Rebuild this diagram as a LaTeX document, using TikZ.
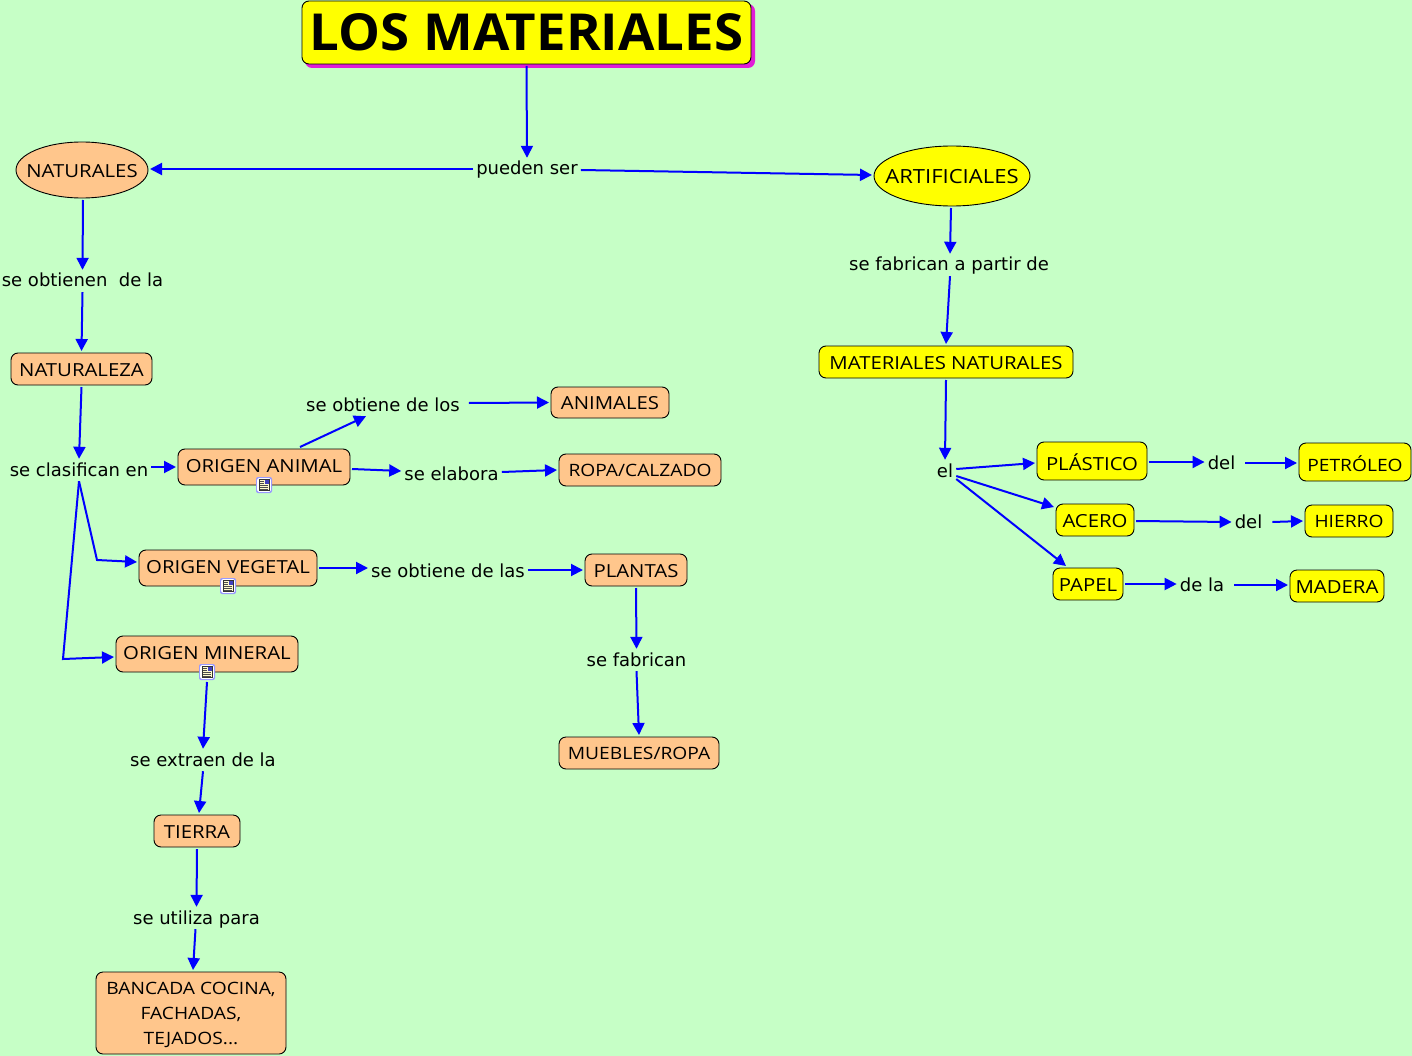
\documentclass[tikz,border=0pt]{standalone}
\usepackage{fontspec}
\setmainfont{DejaVu Sans}
\newfontfamily\conceptfont[FakeStretch=1.13]{Open Sans}
\newfontfamily\titlefont[FakeStretch=1.035]{Open Sans}
\usetikzlibrary{arrows.meta, shapes.geometric, positioning}
\definecolor{fondo}{RGB}{198,255,198}
\definecolor{melocoton}{RGB}{255,198,140}
\definecolor{amarillo}{RGB}{255,255,0}
\definecolor{sombra}{RGB}{225,30,215}
\tikzset{
  enlace/.style={draw=blue, line width=2pt, -{Triangle[length=12pt,width=12pt]}},
  palabra/.style={font=\fontsize{18}{22}\selectfont, inner xsep=3pt, inner ysep=2pt, text height=15pt, text depth=3pt},
  caja/.style={draw=black, line width=0.9pt, rounded corners=7pt, inner sep=0pt, outer sep=2pt, align=center, font=\conceptfont\fontsize{18}{25}\selectfont},
  capline/.style={text height=15pt, text depth=0pt},
  subir/.style={text height=11pt},
  estrecha/.style={font=\conceptfont\fontsize{17}{25}\selectfont},
  naranja/.style={caja, capline, fill=melocoton},
  naranjaalta/.style={caja, fill=melocoton},
  limon/.style={caja, capline, fill=amarillo},
  ovalo/.style={ellipse, draw=black, line width=0.9pt, inner xsep=-12pt, inner ysep=0pt, outer sep=2pt, capline, font=\conceptfont\fontsize{18}{22}\selectfont},
  notaicon/.pic={
    \fill [blue!40, rounded corners=2pt] (-8,-8) rectangle (8,8);
    \fill [white, rounded corners=1.5pt] (-6.8,-6.8) rectangle (6.8,6.8);
    \filldraw [fill=yellow!20, draw=black!80, line width=0.4pt] (-5,-5.5) rectangle (5,5.5);
    \fill [blue!50!gray] (0.5,-5) rectangle (4.5,-1);
    \foreach \ly in {-3.5,-1.5} {\draw [black!70, line width=0.5pt] (-4,\ly) -- (0,\ly);}
    \foreach \ly in {0.5,2.5,4} {\draw [black!70, line width=0.5pt] (-4,\ly) -- (4,\ly);}
  }
}
\begin{document}
\begin{tikzpicture}[x=1pt,y=-1pt]
\fill [fondo] (0,0) rectangle (1412,1056);
\useasboundingbox (0,0) rectangle (1412,1056);

% title
\fill [sombra, rounded corners=7pt] (305,4) rectangle (755,68);
\node [caja, capline, fill=amarillo, minimum width=449pt, minimum height=63pt, text height=37pt, font=\titlefont\bfseries\fontsize{51}{51}\selectfont] (titulo) at (526.5,32.5) {LOS MATERIALES};

% first level
\node [palabra] (pueden) at (527,169) {pueden ser};
\node [ovalo, fill=melocoton, minimum width=132pt, minimum height=56pt] (naturales) at (82,170) {NATURALES};
\node [ovalo, fill=amarillo, minimum width=156pt, minimum height=60pt, font=\conceptfont\fontsize{19.5}{22}\selectfont] (artificiales) at (952,176) {ARTIFICIALES};

% left side
\node [palabra] (obtienen) at (82.5,281) {se obtienen\ \ de la};
\node [naranja, minimum width=141pt, minimum height=32pt] (naturaleza) at (81.5,369) {NATURALEZA};
\node [palabra] (clasifican) at (79,470) {se clasifican en};
\node [naranja, subir, minimum width=172pt, minimum height=36pt] (origenanimal) at (264,467) {ORIGEN ANIMAL};
\node [palabra] (obtienelos) at (383,405) {se obtiene de los};
\node [naranja, minimum width=118pt, minimum height=31pt, text height=13pt] (animales) at (610,402.5) {ANIMALES};
\node [palabra] (elabora) at (451.5,474) {se elabora};
\node [naranja, estrecha, minimum width=162pt, minimum height=32pt, text height=13pt] (ropa) at (640,470) {ROPA/CALZADO};
\node [naranja, subir, minimum width=178pt, minimum height=36pt] (origenvegetal) at (228,568) {ORIGEN VEGETAL};
\node [palabra] (obtienelas) at (448,571) {se obtiene de las};
\node [naranja, minimum width=102pt, minimum height=32pt] (plantas) at (636,570) {PLANTAS};
\node [palabra] (fabrican) at (636.5,660) {se fabrican};
\node [naranja, estrecha, minimum width=160pt, minimum height=32pt, text height=13pt] (muebles) at (639,753) {MUEBLES/ROPA};
\node [naranja, subir, minimum width=182pt, minimum height=36pt] (origenmineral) at (207,654) {ORIGEN MINERAL};
\node [palabra] (extraen) at (203,760) {se extraen de la};
\node [naranja, minimum width=86pt, minimum height=32pt] (tierra) at (197,831) {TIERRA};
\node [palabra] (utiliza) at (196.5,918) {se utiliza para};
\node [naranjaalta, estrecha, minimum width=190pt, minimum height=82pt] (bancada) at (191,1013) {\rule{0pt}{17pt}BANCADA COCINA,\\FACHADAS,\\TEJADOS...};
\coordinate (bendvegetal) at (97,560);
\coordinate (bendmineral) at (63,659);

% right side
\node [palabra] (apartir) at (949,265) {se fabrican a partir de};
\node [limon, minimum width=254pt, minimum height=32pt] (matnaturales) at (946,362) {MATERIALES NATURALES};
\node [palabra] (el) at (945,471) {el};
\node [limon, minimum width=110pt, minimum height=38pt, text height=19pt] (plastico) at (1092,461) {PLÁSTICO};
\node [palabra] (del1) at (1221.5,463) {del};
\node [limon, estrecha, minimum width=112pt, minimum height=38pt, text height=19pt] (petroleo) at (1355,462) {PETRÓLEO};
\node [limon, minimum width=78pt, minimum height=32pt] (acero) at (1095,520) {ACERO};
\node [palabra] (del2) at (1248.5,522) {del};
\node [limon, estrecha, minimum width=88pt, minimum height=32pt, text height=13pt] (hierro) at (1349,521) {HIERRO};
\node [limon, minimum width=70pt, minimum height=32pt] (papel) at (1088,584) {PAPEL};
\node [palabra] (dela) at (1202,585) {de la};
\node [limon, minimum width=94pt, minimum height=32pt] (madera) at (1337,586) {MADERA};

% note icons
\pic at ([yshift=2pt]origenanimal.south) {notaicon};
\pic at ([yshift=2pt]origenvegetal.south) {notaicon};
\pic at ([yshift=2pt]origenmineral.south) {notaicon};

% links
\draw [enlace] (titulo.south) -- (pueden.north);
\draw [enlace] (pueden.west) -- ([yshift=1pt]naturales.east);
\draw [enlace] ([yshift=-1pt]pueden.east) -- ([yshift=1pt]artificiales.west);
\draw [enlace] ([xshift=1pt]naturales.south) -- (obtienen.north);
\draw [enlace] (obtienen.south) -- (naturaleza.north);
\draw [enlace] (naturaleza.south) -- (clasifican.north);
\draw [enlace] ([yshift=3pt]clasifican.east) -- (origenanimal.west);
\draw [enlace] (clasifican.south) -- (bendvegetal) -- ([yshift=6pt]origenvegetal.west);
\draw [enlace] (clasifican.south) -- (bendmineral) -- ([yshift=-3pt]origenmineral.west);
\draw [enlace] ([xshift=36pt]origenanimal.north) -- ([xshift=-17pt]obtienelos.south);
\draw [enlace] ([xshift=6pt,yshift=2pt]obtienelos.east) -- (animales.west);
\draw [enlace] ([yshift=-2pt]origenanimal.east) -- ([yshift=3pt]elabora.west);
\draw [enlace] ([yshift=2pt]elabora.east) -- (ropa.west);
\draw [enlace] (origenvegetal.east) -- ([yshift=3pt]obtienelas.west);
\draw [enlace] ([yshift=1pt]obtienelas.east) -- (plantas.west);
\draw [enlace] (plantas.south) -- (fabrican.north);
\draw [enlace] (fabrican.south) -- (muebles.north);
\draw [enlace] ([yshift=-8pt]origenmineral.south) -- (extraen.north);
\draw [enlace] (extraen.south) -- ([xshift=2pt]tierra.north);
\draw [enlace] (tierra.south) -- (utiliza.north);
\draw [enlace] ([xshift=-1pt]utiliza.south) -- ([xshift=2pt]bancada.north);
\draw [enlace] ([xshift=-1pt]artificiales.south) -- ([xshift=1pt]apartir.north);
\draw [enlace] ([xshift=1pt]apartir.south) -- (matnaturales.north);
\draw [enlace] (matnaturales.south) -- (el.north);
\draw [enlace] ([yshift=2pt]el.east) -- ([yshift=-2pt]plastico.west);
\draw [enlace] ([yshift=-5pt]el.east) -- ([yshift=13pt]acero.west);
\draw [enlace] ([yshift=-8pt]el.east) -- ([xshift=-22pt]papel.north);
\draw [enlace] ([yshift=-1pt]plastico.east) -- ([yshift=1pt]del1.west);
\draw [enlace] ([xshift=7pt]del1.east) -- ([yshift=-1pt]petroleo.west);
\draw [enlace] ([yshift=-1pt]acero.east) -- (del2.west);
\draw [enlace] ([xshift=7pt]del2.east) -- (hierro.west);
\draw [enlace] (papel.east) -- ([yshift=1pt]dela.west);
\draw [enlace] ([xshift=7pt]dela.east) -- ([yshift=1pt]madera.west);
\end{tikzpicture}
\end{document}
